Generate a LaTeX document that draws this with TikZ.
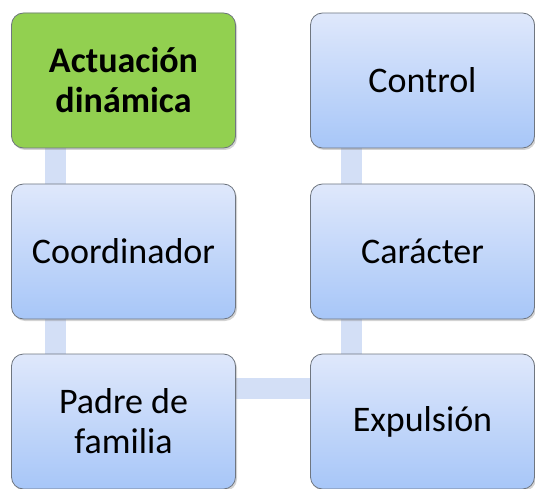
\documentclass[tikz,border=0pt]{standalone}
\usepackage{fontspec}
\setmainfont{Carlito}
\usetikzlibrary{shadows,backgrounds}
\definecolor{boxedge}{HTML}{6F7680}
\definecolor{boxtop}{HTML}{DFE8FB}
\definecolor{boxbottom}{HTML}{A7C6F8}
\definecolor{boxgreen}{HTML}{92D050}
\definecolor{linkblue}{HTML}{D3DFF6}
\begin{document}
\begin{tikzpicture}[x=1pt, y=-1pt,
	box/.style={draw=boxedge, line width=0.8pt, rounded corners=12pt,
		minimum width=224pt, minimum height=135pt, align=center,
		font=\fontsize{36}{40}\selectfont, top color=boxtop, bottom color=boxbottom,
		drop shadow={shadow xshift=1.5pt, shadow yshift=-2pt, opacity=0.35}},
	act/.style={box, fill=boxgreen, top color=boxgreen, bottom color=boxgreen,
		font=\fontsize{36}{40}\selectfont\bfseries},
	link/.style={draw=linkblue, line width=21pt}]
	\useasboundingbox (0, 0) rectangle (535, 489);
	% left column
	\node [act] (actuacion) at (123.5, 80.5) {Actuación\\dinámica};
	\node [box] (coordinador) at (123.5, 251.5) {Coordinador};
	\node [box] (padre) at (123.5, 421.5) {Padre de\\familia};
	% right column
	\node [box] (control) at (422.5, 80.5) {Control};
	\node [box] (caracter) at (422.5, 251.5) {Carácter};
	\node [box] (expulsion) at (422.5, 421.5) {Expulsión};
	\begin{scope}[on background layer]
		\draw [link] ([xshift=-68.5pt]actuacion.south) -- ([xshift=-68.5pt]padre.north);
		\draw [link] ([yshift=33.5pt]padre.east) -- ([yshift=33.5pt]expulsion.west);
		\draw [link] ([xshift=-71.5pt]expulsion.north) -- ([xshift=-71.5pt]control.south);
	\end{scope}
\end{tikzpicture}
\end{document}
